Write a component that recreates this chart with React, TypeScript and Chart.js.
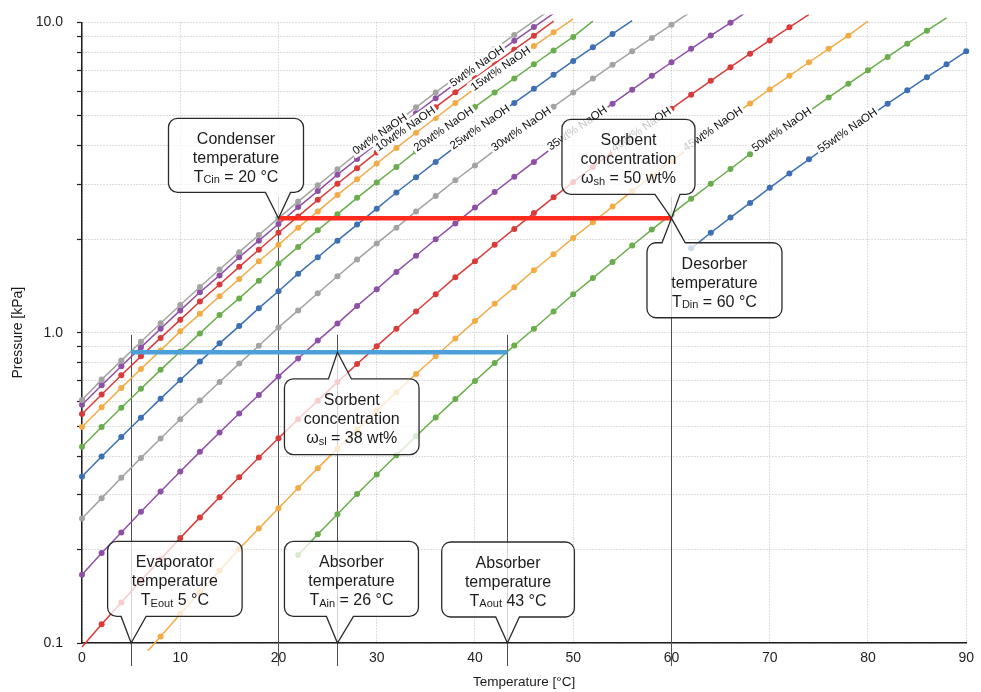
import React, { useEffect, useRef } from "react";
import { Chart, registerables } from "chart.js";

Chart.register(...registerables);

// ---------- data ----------
const temperatureC = [0, 2, 4, 6, 8, 10, 12, 14, 16, 18, 20, 22, 24, 26, 28, 30, 32, 34, 36, 38, 40, 42, 44, 46, 48, 50, 52, 54, 56, 58, 60, 62, 64, 66, 68, 70, 72, 74, 76, 78, 80, 82, 84, 86, 88, 90, 92];

const naoh0 = [0.607, 0.706, 0.813, 0.935, 1.073, 1.228, 1.403, 1.599, 1.818, 2.064, 2.339, 2.645, 2.985, 3.363, 3.782, 4.246, 4.759, 5.324, 5.947, 6.632, 7.384, 8.205, 9.112, 10.09, 11.17];
const naoh5 = [0.586, 0.677, 0.78, 0.897, 1.03, 1.18, 1.35, 1.53, 1.75, 1.98, 2.24, 2.54, 2.86, 3.23, 3.63, 4.07, 4.56, 5.1, 5.7, 6.35, 7.07, 7.86, 8.72, 9.66, 10.69];
const naoh10 = [0.547, 0.632, 0.729, 0.839, 0.962, 1.1, 1.26, 1.43, 1.63, 1.85, 2.1, 2.37, 2.68, 3.02, 3.39, 3.81, 4.27, 4.78, 5.33, 5.95, 6.62, 7.36, 8.17, 9.06, 10.1];
const naoh15 = [0.497, 0.575, 0.664, 0.764, 0.877, 1.01, 1.15, 1.31, 1.49, 1.7, 1.92, 2.18, 2.46, 2.78, 3.12, 3.51, 3.94, 4.41, 4.92, 5.5, 6.12, 6.81, 7.57, 8.39, 9.29, 10.27];
const naoh20 = [0.429, 0.497, 0.573, 0.66, 0.759, 0.87, 0.995, 1.14, 1.29, 1.47, 1.67, 1.89, 2.14, 2.41, 2.72, 3.05, 3.42, 3.84, 4.29, 4.79, 5.34, 5.94, 6.6, 7.33, 8.12, 8.98, 10.1];
const naoh25 = [0.344, 0.399, 0.461, 0.532, 0.613, 0.704, 0.807, 0.924, 1.05, 1.2, 1.36, 1.55, 1.75, 1.98, 2.23, 2.51, 2.83, 3.17, 3.55, 3.97, 4.43, 4.94, 5.5, 6.11, 6.78, 7.51, 8.31, 9.18, 10.13];
const naoh30 = [0.252, 0.293, 0.341, 0.395, 0.456, 0.526, 0.605, 0.694, 0.795, 0.908, 1.04, 1.18, 1.34, 1.52, 1.72, 1.94, 2.18, 2.46, 2.76, 3.1, 3.46, 3.87, 4.32, 4.81, 5.35, 5.94, 6.59, 7.3, 8.07, 8.91, 9.83, 10.83];
const naoh35 = [0.166, 0.195, 0.227, 0.265, 0.308, 0.357, 0.413, 0.477, 0.549, 0.63, 0.723, 0.826, 0.943, 1.07, 1.22, 1.38, 1.57, 1.77, 2.0, 2.25, 2.53, 2.84, 3.18, 3.55, 3.97, 4.42, 4.92, 5.47, 6.07, 6.73, 7.44, 8.22, 9.07, 9.97, 11.0];
const naoh40 = [0.097, 0.115, 0.135, 0.159, 0.186, 0.218, 0.254, 0.295, 0.342, 0.396, 0.457, 0.526, 0.604, 0.693, 0.793, 0.905, 1.03, 1.17, 1.33, 1.51, 1.7, 1.92, 2.16, 2.43, 2.73, 3.06, 3.42, 3.82, 4.26, 4.74, 5.27, 5.85, 6.48, 7.17, 7.93, 8.75, 9.64, 10.61];
const naoh45 = [null, null, null, 0.089, 0.105, 0.124, 0.146, 0.171, 0.201, 0.234, 0.272, 0.316, 0.366, 0.423, 0.487, 0.56, 0.643, 0.736, 0.84, 0.958, 1.09, 1.24, 1.4, 1.59, 1.79, 2.02, 2.27, 2.55, 2.86, 3.2, 3.57, 3.98, 4.44, 4.93, 5.48, 6.08, 6.73, 7.44, 8.22, 9.06, 10.1];
const naoh50 = [null, null, null, null, null, null, null, null, null, null, null, 0.192, 0.224, 0.26, 0.302, 0.349, 0.403, 0.464, 0.533, 0.611, 0.699, 0.798, 0.909, 1.03, 1.17, 1.33, 1.5, 1.69, 1.91, 2.15, 2.41, 2.7, 3.02, 3.37, 3.76, 4.19, 4.66, 5.17, 5.73, 6.34, 7.01, 7.74, 8.54, 9.4, 10.34];
const naoh55 = [null, null, null, null, null, null, null, null, null, null, null, null, null, null, null, null, null, null, null, null, null, null, null, null, null, null, null, null, null, null, null, 1.87, 2.1, 2.35, 2.62, 2.93, 3.26, 3.62, 4.03, 4.46, 4.94, 5.47, 6.04, 6.66, 7.33, 8.07, 8.86];

const seriesNames = ["0wt% NaOH", "5wt% NaOH", "10wt% NaOH", "15wt% NaOH", "20wt% NaOH", "25wt% NaOH", "30wt% NaOH", "35wt% NaOH", "40wt% NaOH", "45wt% NaOH", "50wt% NaOH", "55wt% NaOH"];
const seriesValues = [naoh0, naoh5, naoh10, naoh15, naoh20, naoh25, naoh30, naoh35, naoh40, naoh45, naoh50, naoh55];
// temperature (°C) along each curve at which its label sits
const seriesLabelAtC = [30.3, 40.2, 32.9, 42.6, 36.8, 40.5, 44.7, 50.4, 56.9, 64.2, 71.2, 77.9];

const pressureTicks = [0.1, 0.2, 0.3, 0.4, 0.5, 0.6, 0.7, 0.8, 0.9, 1, 2, 3, 4, 5, 6, 7, 8, 9, 10];
const temperatureTicks = [0, 10, 20, 30, 40, 50, 60, 70, 80, 90];

const evaporatorC = 5;
const condenserC = 20;
const absorberInC = 26;
const absorberOutC = 43.3;
const desorberC = 60;
const highPressureKPa = 2.336;
const lowPressureKPa = 0.865;

// vertical guides: temperature, upper pressure end
const guideTemperaturesC = [evaporatorC, condenserC, absorberInC, absorberOutC, desorberC];
const guideTopKPa = [0.985, 2.74, 0.985, 0.985, 2.74];

// ---------- styles ----------
const FONT = '"Liberation Sans", Arial, Helvetica, sans-serif';
const seriesColors = ["#a3a3a3", "#8e50a6", "#d93b3b", "#f2ab45", "#69ad4c", "#3d6fb5", "#a3a3a3", "#8e50a6", "#d93b3b", "#f2ab45", "#69ad4c", "#3d6fb5"];

type Seg = [string, boolean];
const callouts: any[] = [
  { tipC: condenserC, tipKPa: highPressureKPa, box: [-110, 25, -100, -26], side: "bottom", base: [-13, 12],
    lines: [[["Condenser", false]], [["temperature", false]], [["T", false], ["Cin", true], [" = 20 °C", false]]] },
  { tipC: desorberC, tipKPa: highPressureKPa, box: [-109.5, 23.5, -99, -24], side: "bottom", base: [-16.5, 8.5],
    lines: [[["Sorbent", false]], [["concentration", false]], [["ω", false], ["sh", true], [" = 50 wt%", false]]] },
  { tipC: desorberC, tipKPa: highPressureKPa, box: [-24.5, 110.5, 24.4, 99.4], side: "top", base: [-9.5, 13.8],
    lines: [[["Desorber", false]], [["temperature", false]], [["T", false], ["Din", true], [" = 60 °C", false]]] },
  { tipC: absorberInC, tipKPa: lowPressureKPa, box: [-53, 81.6, 26.7, 102.4], side: "top", base: [-9, 14],
    lines: [[["Sorbent", false]], [["concentration", false]], [["ω", false], ["sl", true], [" = 38 wt%", false]]] },
  { tipC: evaporatorC, tipKPa: 0.1, box: [-23.5, 111, -101.6, -26.6], side: "bottom", base: [-10, 15],
    lines: [[["Evaporator", false]], [["temperature", false]], [["T", false], ["Eout", true], [" 5 °C", false]]] },
  { tipC: absorberInC, tipKPa: 0.1, box: [-53, 81, -101.6, -26.6], side: "bottom", base: [-11, 16],
    lines: [[["Absorber", false]], [["temperature", false]], [["T", false], ["Ain", true], [" = 26 °C", false]]] },
  { tipC: absorberOutC, tipKPa: 0.1, box: [-65.7, 67, -101, -26], side: "bottom", base: [-11.7, 12],
    lines: [[["Absorber", false]], [["temperature", false]], [["T", false], ["Aout", true], [" 43 °C", false]]] },
];

function valueOnSeries(vals: (number | null)[], T: number): number | null {
  for (let k = 0; k < temperatureC.length - 1; k++) {
    const t0 = temperatureC[k], t1 = temperatureC[k + 1];
    const v0 = vals[k], v1 = vals[k + 1];
    if (T >= t0 && T <= t1 && v0 != null && v1 != null) {
      const f = (T - t0) / (t1 - t0);
      return Math.pow(10, Math.log10(v0) * (1 - f) + Math.log10(v1) * f);
    }
  }
  return null;
}

function drawCallout(ctx: CanvasRenderingContext2D, xs: any, ys: any, c: any) {
  const tx = xs.getPixelForValue(c.tipC);
  const ty = ys.getPixelForValue(c.tipKPa);
  const L = tx + c.box[0], R = tx + c.box[1], T = ty + c.box[2], B = ty + c.box[3];
  const r = 9;
  const b0 = tx + c.base[0], b1 = tx + c.base[1];
  ctx.save();
  ctx.beginPath();
  ctx.moveTo(L + r, T);
  if (c.side === "top") { ctx.lineTo(b0, T); ctx.lineTo(tx, ty); ctx.lineTo(b1, T); }
  ctx.lineTo(R - r, T);
  ctx.arcTo(R, T, R, T + r, r);
  ctx.lineTo(R, B - r);
  ctx.arcTo(R, B, R - r, B, r);
  if (c.side === "bottom") { ctx.lineTo(b1, B); ctx.lineTo(tx, ty); ctx.lineTo(b0, B); }
  ctx.lineTo(L + r, B);
  ctx.arcTo(L, B, L, B - r, r);
  ctx.lineTo(L, T + r);
  ctx.arcTo(L, T, L + r, T, r);
  ctx.closePath();
  ctx.fillStyle = "rgba(255,255,255,0.75)";
  ctx.fill();
  ctx.lineWidth = 1.3;
  ctx.strokeStyle = "#2a2a2a";
  ctx.lineJoin = "miter";
  ctx.stroke();

  const cx = (L + R) / 2;
  const cy = (T + B) / 2 + 1.5;
  ctx.textAlign = "left";
  ctx.textBaseline = "alphabetic";
  ctx.fillStyle = "#1c1c1c";
  c.lines.forEach((segs: Seg[], i: number) => {
    const baseline = cy + (i - 1) * 19 + 5.8;
    let total = 0;
    const widths = segs.map(([t, sub]) => {
      ctx.font = (sub ? "11px " : "16px ") + FONT;
      const w = ctx.measureText(t).width;
      total += w;
      return w;
    });
    let xx = cx - total / 2;
    segs.forEach(([t, sub], k) => {
      ctx.font = (sub ? "11px " : "16px ") + FONT;
      ctx.fillText(t, xx, baseline + (sub ? 1.5 : 0));
      xx += widths[k];
    });
  });
  ctx.restore();
}

const overlayPlugin = {
  id: "overlay",
  beforeDatasetsDraw(chart: any) {
    const { ctx, chartArea, scales } = chart;
    const xs = scales.x, ys = scales.y;
    ctx.save();
    ctx.strokeStyle = "#505050";
    ctx.lineWidth = 1;
    guideTemperaturesC.forEach((t, i) => {
      const px = Math.round(xs.getPixelForValue(t)) + 0.5;
      ctx.beginPath();
      ctx.moveTo(px, ys.getPixelForValue(guideTopKPa[i]));
      ctx.lineTo(px, chartArea.bottom + 23);
      ctx.stroke();
    });
    ctx.restore();
  },
  afterDatasetsDraw(chart: any) {
    const { ctx, scales } = chart;
    const xs = scales.x, ys = scales.y;
    ctx.save();
    // high and low pressure lines
    ctx.lineCap = "butt";
    ctx.lineWidth = 4.5;
    ctx.strokeStyle = "#ff2b1e";
    ctx.beginPath();
    ctx.moveTo(xs.getPixelForValue(condenserC), ys.getPixelForValue(highPressureKPa));
    ctx.lineTo(xs.getPixelForValue(desorberC), ys.getPixelForValue(highPressureKPa));
    ctx.stroke();
    ctx.strokeStyle = "#4d9fd7";
    ctx.beginPath();
    ctx.moveTo(xs.getPixelForValue(evaporatorC), ys.getPixelForValue(lowPressureKPa));
    ctx.lineTo(xs.getPixelForValue(absorberOutC), ys.getPixelForValue(lowPressureKPa));
    ctx.stroke();

    // series labels along the curves
    ctx.font = "11.5px " + FONT;
    ctx.textAlign = "center";
    ctx.textBaseline = "middle";
    const ang = (34.5 * Math.PI) / 180;
    seriesNames.forEach((name, i) => {
      const T = seriesLabelAtC[i];
      const p = valueOnSeries(seriesValues[i], T);
      if (p == null) return;
      const px = xs.getPixelForValue(T);
      const py = ys.getPixelForValue(p) - 1.5;
      const w = ctx.measureText(name).width;
      ctx.save();
      ctx.translate(px, py);
      ctx.rotate(-ang);
      ctx.fillStyle = "#ffffff";
      ctx.fillRect(-w / 2 - 2, -6.5, w + 4, 13);
      ctx.fillStyle = "#111111";
      ctx.fillText(name, 0, 0.5);
      ctx.restore();
    });

    // callouts
    callouts.forEach((c) => drawCallout(ctx, xs, ys, c));
    ctx.restore();
  },
  afterDraw(chart: any) {
    const { ctx, chartArea } = chart;
    ctx.save();
    ctx.fillStyle = "#1a1a1a";
    ctx.textAlign = "center";
    ctx.textBaseline = "middle";
    ctx.font = "13.5px " + FONT;
    ctx.fillText("Temperature [°C]", (chartArea.left + chartArea.right) / 2, 682);
    ctx.translate(18, (chartArea.top + chartArea.bottom) / 2);
    ctx.rotate(-Math.PI / 2);
    ctx.font = "14px " + FONT;
    ctx.fillText("Pressure [kPa]", 0, 0);
    ctx.restore();
  },
};

export default function App() {
  const ref = useRef<HTMLCanvasElement | null>(null);
  useEffect(() => {
    if (!ref.current) return;
    Chart.defaults.font.family = FONT;
    const datasets = seriesValues.map((vals, i) => ({
      label: seriesNames[i],
      data: vals
        .map((v, k) => (v == null ? null : { x: temperatureC[k], y: v }))
        .filter((d) => d != null),
      borderColor: seriesColors[i],
      backgroundColor: seriesColors[i],
      borderWidth: 1.5,
      pointRadius: (c: any) => {
        const v = c.raw ? c.raw.y : 0;
        return v > 10.0 || v < 0.1 ? 0 : 3;
      },
      pointBorderWidth: 0,
      pointHoverRadius: 0,
      showLine: true,
      tension: 0,
      clip: 8,
    }));
    const chart = new Chart(ref.current, {
      type: "scatter",
      data: { datasets: datasets as any },
      options: {
        responsive: false,
        maintainAspectRatio: false,
        animation: false,
        events: [],
        layout: { padding: { left: 0, top: 16, right: 11, bottom: 0 } },
        plugins: { legend: { display: false }, tooltip: { enabled: false }, title: { display: false } },
        scales: {
          x: {
            type: "linear",
            min: 0,
            max: 90,
            afterBuildTicks: (s: any) => { s.ticks = temperatureTicks.map((v) => ({ value: v })); },
            afterFit: (s: any) => { s.height = 49; },
            grid: { color: "#bdbdbd", lineWidth: 1, drawTicks: false },
            border: { display: true, color: "#1e1e1e", width: 1.5, dash: [1, 2] },
            ticks: { color: "#1e1e1e", font: { size: 14 }, padding: 7, maxRotation: 0, autoSkip: false, callback: (v: any) => String(v) },
          },
          y: {
            type: "logarithmic",
            min: 0.1,
            max: 10,
            afterBuildTicks: (s: any) => { s.ticks = pressureTicks.map((v) => ({ value: v })); },
            afterFit: (s: any) => { s.width = 82; },
            grid: { color: "#bdbdbd", lineWidth: 1, drawTicks: true, tickLength: 5, tickColor: "#1e1e1e", tickWidth: 1.2 },
            border: { display: true, color: "#1e1e1e", width: 1.5, dash: [1, 2] },
            ticks: {
              color: "#1e1e1e",
              font: { size: 14 },
              padding: 14,
              autoSkip: false,
              callback: (v: any) => (v === 0.1 ? "0.1" : v === 1 ? "1.0" : v === 10 ? "10.0" : ""),
            },
          },
        },
      },
      plugins: [overlayPlugin],
    } as any);
    return () => chart.destroy();
  }, []);
  return (
    <div style={{ position: "absolute", left: 0, top: 0, width: 981, height: 692, background: "#ffffff" }}>
      <canvas ref={ref} width={981} height={692} style={{ display: "block" }} />
    </div>
  );
}
